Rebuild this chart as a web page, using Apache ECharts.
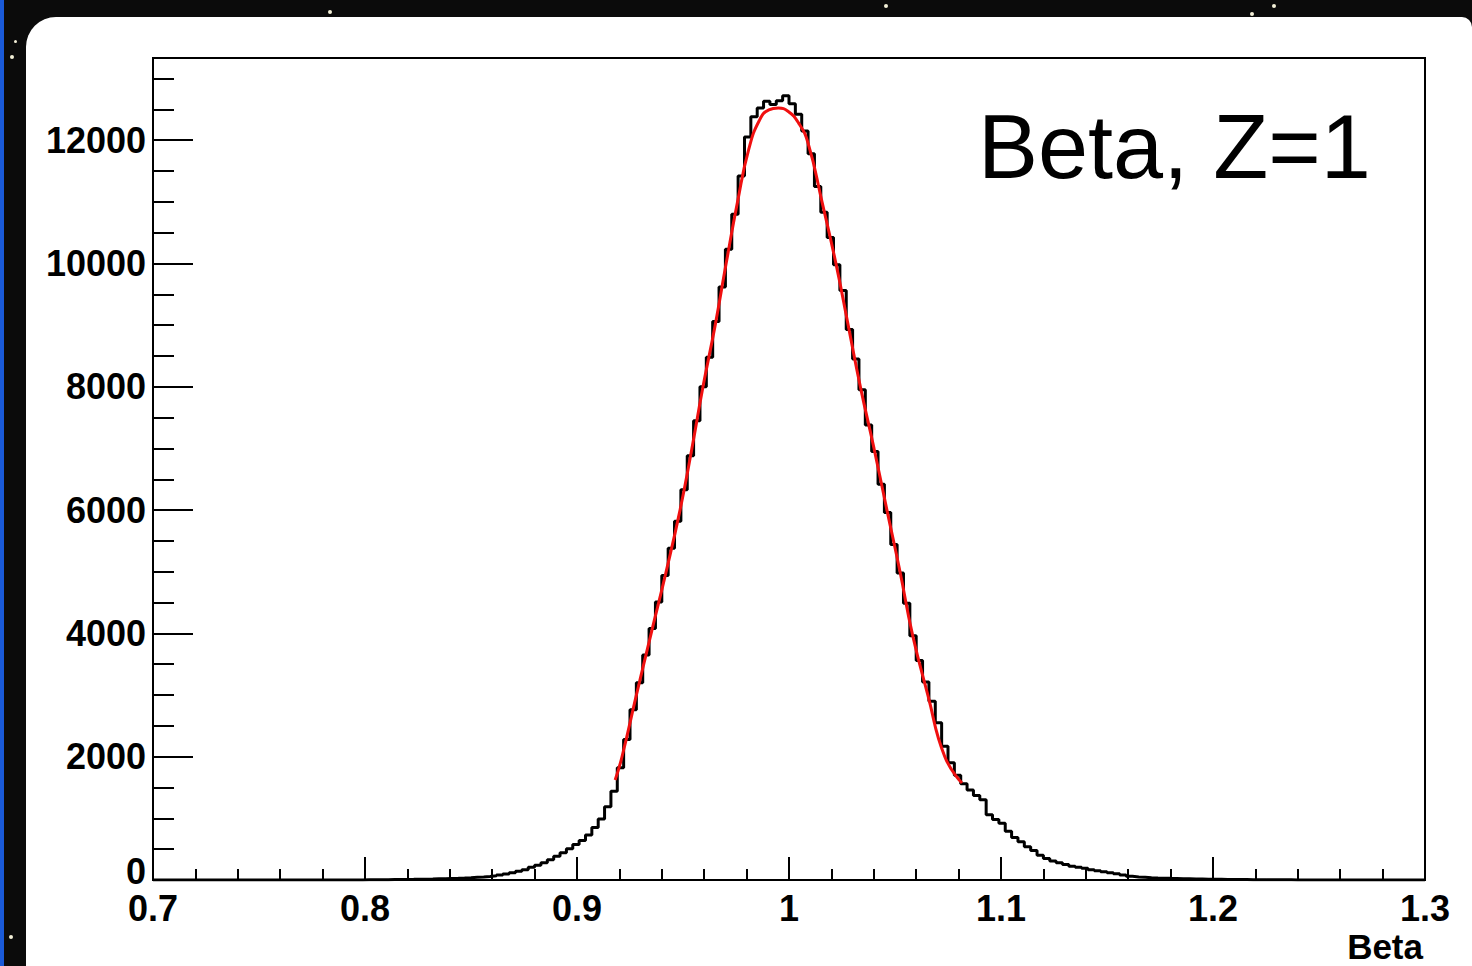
<!DOCTYPE html>
<html>
<head>
<meta charset="utf-8">
<script src="https://cdn.jsdelivr.net/npm/echarts@6/dist/echarts.min.js"></script>
<style>
  html, body { margin: 0; padding: 0; width: 1472px; height: 966px; overflow: hidden; background: #0b0b0b; }
  #strip { position: absolute; left: 0; top: 0; width: 4px; height: 966px; background: #1a5ad8; }
  #panel { position: absolute; left: 26px; top: 17px; right: 0; bottom: 0; background: #ffffff; border-radius: 30px 10px 0 0; }
  .star { position: absolute; width: 4px; height: 4px; border-radius: 2px; background: #f4f0d8; }
  #chart { position: absolute; left: 0; top: 0; width: 1472px; height: 966px; }
</style>
</head>
<body>
<div id="strip"></div>
<div id="panel"></div>
<div class="star" style="left:328px;top:10px"></div>
<div class="star" style="left:884px;top:4px"></div>
<div class="star" style="left:1250px;top:12px"></div>
<div class="star" style="left:1272px;top:4px"></div>
<div class="star" style="left:10px;top:55px"></div>
<div class="star" style="left:14px;top:40px;width:3px;height:3px"></div>
<div class="star" style="left:9px;top:935px"></div>
<div id="chart"></div>
<script>
// Histogram: 200 bins of width 0.003 from 0.7 to 1.3
const binStart = 0.7;
const binWidth = 0.003;
const counts = [
  0,0,0,0,0,0,0,0,0,0, 0,0,0,0,0,0,0,0,0,0, 0,0,0,0,0,0,0,0,0,0,
  1,2,2,3,4,4,6,7,8,10, 11,13,14,16,19,22,25,28,32,37,
  44,50,58,68,80,96,118,140,168,205, 240,280,330,385,440,505,575,640,730,850,
  990,1190,1440,1820,2280,2760,3200,3650,4080,4510, 4940,5380,5820,6330,6880,7450,8000,8480,9060,9620,
  10230,10800,11420,12050,12380,12520,12630,12580,12640,12720, 12590,12420,12150,11780,11250,10830,10420,9980,9560,8930,
  8450,7950,7380,6950,6420,5960,5440,4980,4490,3960, 3560,3210,2900,2550,2170,1900,1700,1560,1460,1370,
  1300,1060,980,920,790,690,620,540,480,400, 350,310,280,250,225,205,190,168,150,135,
  118,100,82,60,50,44,38,33,30,27, 25,22,20,18,16,14,13,12,10,9,
  8,7,6,6,5,4,4,3,3,2, 2,2,1,1,0,0,0,0,0,0,
  0,0,0,0,0,0,0,0,0,0
];
// Fit curve
const fitBeta = [0.918,0.9212,0.928,0.9349,0.942,0.9486,0.9542,0.9594,0.9651,0.9703,0.9757,0.981,0.986,0.9905,0.995,0.9995,1.0045,1.009,1.0156,1.0222,1.028,1.0337,1.0401,1.0462,1.0524,1.0582,1.0655,1.0735,1.0816];
const fitValue = [1622,1995,3000,3989,4995,6000,7000,7995,8984,9990,10995,11850,12320,12490,12520,12470,12280,11950,10995,9990,8984,7995,7000,6000,4995,3989,3000,2000,1573];

const titleText = 'Beta, Z=1';
const xAxisTitle = 'Beta';
const yZeroLabel = '0';

const histData = counts.map((c, i) => [+(binStart + i * binWidth).toFixed(4), c]);
histData.push([+(binStart + counts.length * binWidth).toFixed(4), counts[counts.length - 1]]);
const fitData = fitBeta.map((b, i) => [b, fitValue[i]]);

const FONT = 'Liberation Sans, Arial, Helvetica, sans-serif';
const chart = echarts.init(document.getElementById('chart'), null, { renderer: 'svg' });
chart.setOption({
  animation: false,
  backgroundColor: 'transparent',
  grid: { left: 153, top: 58, width: 1272, height: 822, show: true, borderColor: '#000', borderWidth: 2, backgroundColor: 'transparent' },
  xAxis: {
    type: 'value', min: 0.7, max: 1.3, interval: 0.1,
    axisLine: { show: true, lineStyle: { color: '#000', width: 2 } },
    axisTick: { show: true, inside: true, length: 23, lineStyle: { color: '#000', width: 2 } },
    minorTick: { show: true, splitNumber: 5, length: 11, lineStyle: { color: '#000', width: 2 } },
    splitLine: { show: false },
    axisLabel: { margin: 14, color: '#000', fontSize: 36, lineHeight: 28, fontWeight: 'bold', fontFamily: FONT,
      formatter: v => String(+(+v).toFixed(1)) }
  },
  yAxis: [
    {
      type: 'value', min: 0, max: 13333, interval: 2000,
      axisLine: { show: true, lineStyle: { color: '#000', width: 2 } },
      axisTick: { show: true, inside: true, length: 40, lineStyle: { color: '#000', width: 2 } },
      splitLine: { show: false },
      axisLabel: { margin: 7, color: '#000', fontSize: 36, lineHeight: 28, fontWeight: 'bold', fontFamily: FONT,
        formatter: v => {
          const r = Math.round(v);
          return (r % 2000 === 0 && r !== 0) ? String(r) : '';
        }
      }
    },
    {
      type: 'value', min: 0, max: 13333, interval: 500, position: 'left',
      axisLine: { show: false },
      axisTick: { show: true, inside: true, length: 21, lineStyle: { color: '#000', width: 2 } },
      splitLine: { show: false },
      axisLabel: { show: false }
    }
  ],
  series: [
    {
      type: 'line', step: 'end', data: histData, yAxisIndex: 0,
      showSymbol: false, symbol: 'none',
      lineStyle: { color: '#000', width: 3 }, z: 2
    },
    {
      type: 'line', smooth: 0.5, data: fitData, yAxisIndex: 0,
      showSymbol: false, symbol: 'none',
      lineStyle: { color: '#f01010', width: 3 }, z: 3
    }
  ],
  graphic: [
    { type: 'text', x: 978, y: 147, style: { text: titleText, fontSize: 90, fontFamily: FONT, fill: '#000', align: 'left', verticalAlign: 'middle' } },
    { type: 'text', x: 1423, y: 946, style: { text: xAxisTitle, fontSize: 35, fontWeight: 'bold', fontFamily: FONT, fill: '#000', align: 'right', verticalAlign: 'middle' } },
    { type: 'text', x: 146, y: 871, style: { text: yZeroLabel, fontSize: 36, fontWeight: 'bold', fontFamily: FONT, fill: '#000', align: 'right', verticalAlign: 'middle' } }
  ]
});
</script>
</body>
</html>
